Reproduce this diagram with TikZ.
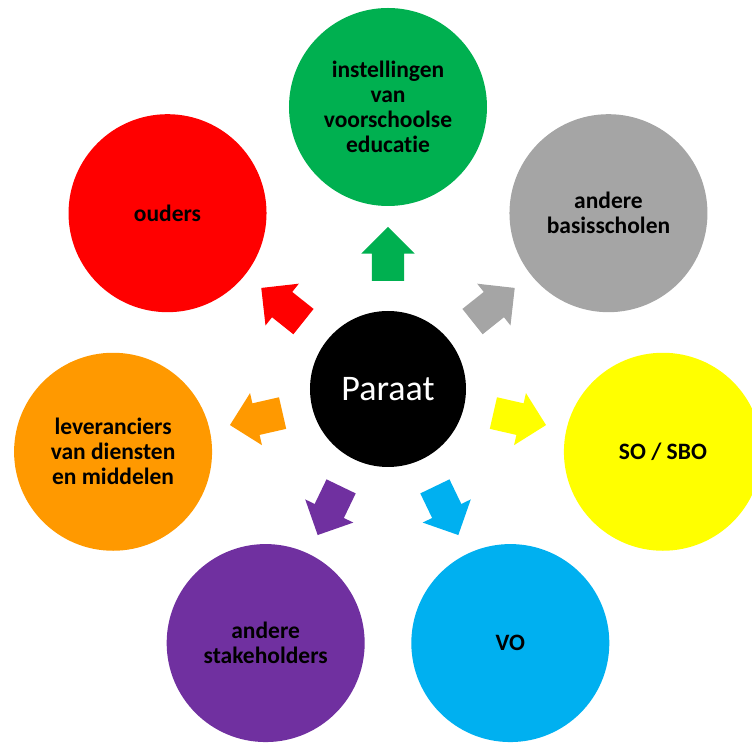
\documentclass[tikz,border=0pt]{standalone}
\usepackage{fontspec}
\setmainfont{Carlito}[Ligatures=NoCommon]
\usetikzlibrary{shapes.arrows}

\definecolor{groen}{HTML}{00B050}
\definecolor{grijs}{HTML}{A5A5A5}
\definecolor{geel}{HTML}{FFFF00}
\definecolor{blauw}{HTML}{00B0F0}
\definecolor{paars}{HTML}{7030A0}
\definecolor{oranje}{HTML}{FF9900}
\definecolor{rood}{HTML}{FF0000}

\begin{document}
\begin{tikzpicture}[
  x=1pt, y=1pt,
  bubble/.style={circle, minimum size=198pt, inner sep=0pt, align=center, text=black,
    font=\fontsize{23.5}{25}\selectfont\bfseries},
  kern/.style={circle, fill=black, minimum size=156pt, inner sep=0pt, text=white,
    font=\fontsize{36}{40}\selectfont},
  pijl/.style={single arrow, inner xsep=0pt, inner ysep=16pt, minimum height=54pt,
    single arrow head extend=10.5pt, single arrow tip angle=90}
]
\useasboundingbox (-388,-354) rectangle (364,389);
% centre
\node[kern] (paraat) at (0,0) {Paraat};
% partners
\node[bubble, fill=groen] (voorschool) at (90:282) {instellingen\\van\\voorschoolse\\educatie};
\node[bubble, fill=grijs] (basisscholen) at (38.57:282) {andere\\basisscholen};
\node[bubble, fill=geel] (sosbo) at (-12.86:282) {SO / SBO};
\node[bubble, fill=blauw] (vo) at (-64.29:282) {VO};
\node[bubble, fill=paars] (stakeholders) at (-115.71:282) {andere\\stakeholders};
\node[bubble, fill=oranje] (leveranciers) at (-167.14:282) {leveranciers\\van diensten\\en middelen};
\node[bubble, fill=rood] (ouders) at (141.43:282) {ouders};
% arrows
\node[pijl, fill=groen, rotate=90] (p-voorschool) at (90:127) {};
\node[pijl, fill=grijs, rotate=38.57] (p-basisscholen) at (38.57:127) {};
\node[pijl, fill=geel, rotate=-12.86] (p-sosbo) at (-12.86:127) {};
\node[pijl, fill=blauw, rotate=-64.29] (p-vo) at (-64.29:127) {};
\node[pijl, fill=paars, rotate=-115.71] (p-stakeholders) at (-115.71:127) {};
\node[pijl, fill=oranje, rotate=-167.14] (p-leveranciers) at (-167.14:127) {};
\node[pijl, fill=rood, rotate=141.43] (p-ouders) at (141.43:127) {};
\end{tikzpicture}
\end{document}
